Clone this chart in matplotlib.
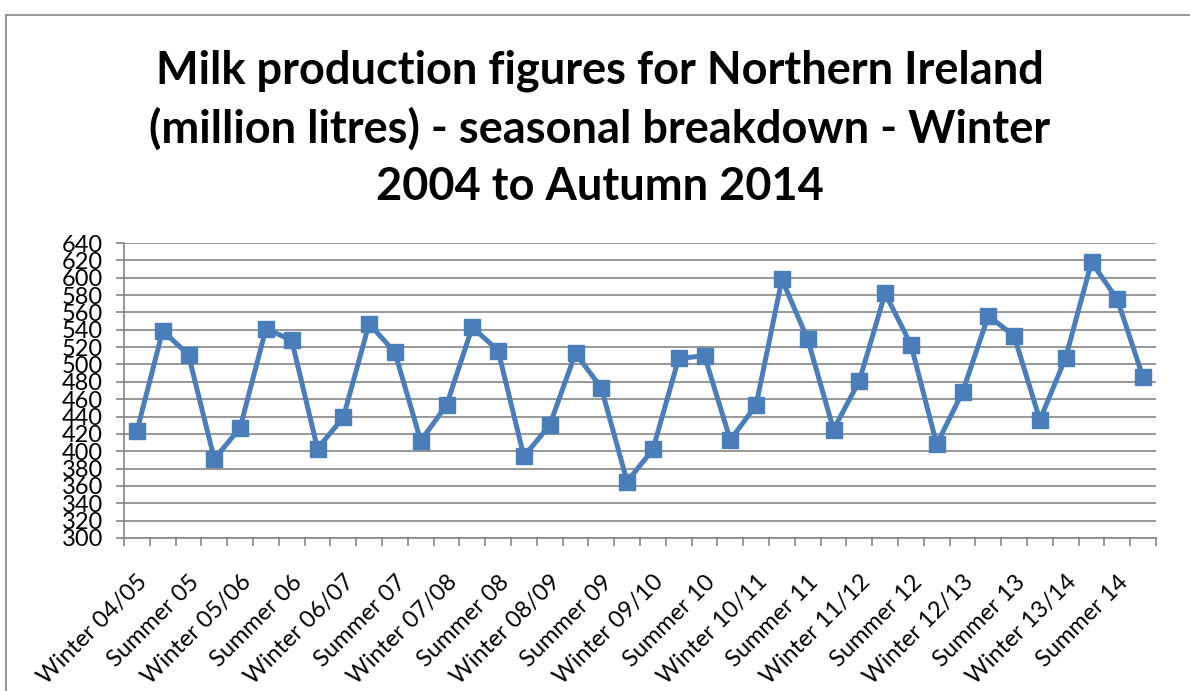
import numpy as np
import matplotlib.pyplot as plt
from matplotlib.lines import Line2D

plt.rcParams["font.family"] = ["Lato", "DejaVu Sans"]

# quarterly seasons, Winter 04/05 .. Autumn 14
seasons = []
for yr in range(5, 15):
    seasons += [
        "Winter %02d/%02d" % (yr - 1, yr),
        "Spring %02d" % yr,
        "Summer %02d" % yr,
        "Autumn %02d" % yr,
    ]

milk = [
    423, 539, 511, 391, 427, 541, 528, 403, 439, 547,
    514, 412, 453, 543, 516, 394, 430, 513, 473, 365,
    402, 507, 510, 413, 453, 598, 529, 425, 481, 582,
    523, 408, 468, 556, 533, 436, 508, 618, 575, 485,
]

title = ("Milk production figures for Northern Ireland\n"
         "(million litres) - seasonal breakdown - Winter\n"
         "2004 to Autumn 2014")

y_ticks = list(range(300, 641, 20))

blue = "#4a7ebb"
grey = "#868686"

fig = plt.figure(figsize=(11.9, 6.91), dpi=100)
ax = fig.add_axes([124 / 1190, 1 - 538 / 691, 1032 / 1190, 295 / 691])

x = np.arange(len(milk))
ax.plot(x, milk, color=blue, lw=3.6, marker="s", ms=11,
        markerfacecolor=blue, markeredgecolor=blue, zorder=3)

ax.set_xlim(-0.5, len(milk) - 0.5)
ax.set_ylim(300, 640)
ax.set_yticks(y_ticks)
ax.yaxis.grid(True, color=grey, lw=1.2)
ax.set_axisbelow(True)

ax.set_xticks(x[::2])
ax.set_xticklabels(seasons[::2], rotation=45, ha="right",
                   rotation_mode="anchor", fontsize=17)
ax.set_xticks(np.arange(-0.5, len(milk)), minor=True)
ax.tick_params(axis="x", which="major", length=0, pad=24)
ax.tick_params(axis="x", which="minor", length=6, color=grey, width=1.2)
ax.tick_params(axis="y", length=6, color=grey, width=1.2, pad=9,
               labelsize=17)

for s in ["top", "right"]:
    ax.spines[s].set_visible(False)
for s in ["left", "bottom"]:
    ax.spines[s].set_color(grey)
    ax.spines[s].set_linewidth(1.2)

fig.text(600 / 1190, 1 - 49 / 691, title, ha="center", va="top",
         fontsize=32.5, fontweight="bold", linespacing=1.45)

# outer chart frame
fig.add_artist(Line2D([6 / 1190, 6 / 1190], [0, 1 - 15 / 691],
                      transform=fig.transFigure, color=grey, lw=1.2))
fig.add_artist(Line2D([6 / 1190, 1], [1 - 15 / 691, 1 - 15 / 691],
                      transform=fig.transFigure, color=grey, lw=1.2))

fig.savefig("out.png", dpi=100)
